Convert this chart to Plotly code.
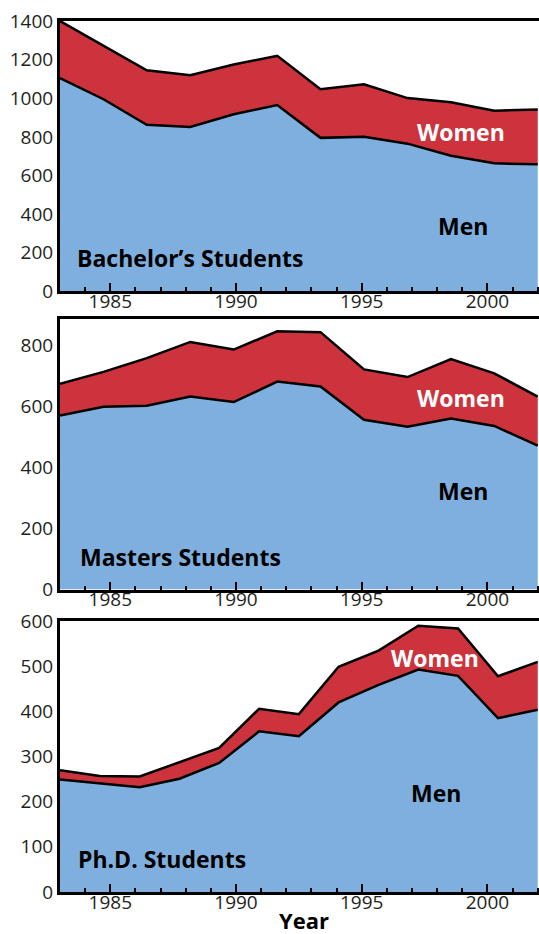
import plotly.graph_objects as go

# ---------------- data ----------------
bach_years = [1983.0, 1984.73, 1986.45, 1988.18, 1989.91, 1991.64, 1993.36, 1995.09, 1996.82, 1998.55, 2000.27, 2002.0]
bach_men = [1104, 995, 863, 851, 917, 965, 795, 801, 765, 702, 663, 658]
bach_women = [296, 275, 282, 268, 258, 255, 252, 271, 236, 277, 273, 284]

mast_years = [1983.0, 1984.73, 1986.45, 1988.18, 1989.91, 1991.64, 1993.36, 1995.09, 1996.82, 1998.55, 2000.27, 2002.0]
mast_men = [570, 599, 602, 632, 614, 681, 665, 556, 533, 560, 536, 471]
mast_women = [104, 114, 156, 179, 172, 165, 178, 165, 163, 195, 172, 161]

phd_years = [1983.0, 1984.58, 1986.17, 1987.75, 1989.33, 1990.92, 1992.5, 1994.08, 1995.67, 1997.25, 1998.83, 2000.42, 2002.0]
phd_men = [249, 240, 232, 251, 286, 356, 345, 420, 459, 493, 479, 385, 404]
phd_women = [21, 17, 24, 36, 33, 50, 49, 79, 76, 97, 105, 93, 106]

panel_titles = ["Bachelor\u2019s Students", "Masters Students", "Ph.D. Students"]
y_ranges = [[0, 1400], [0, 885], [0, 600]]
y_dticks = [200, 200, 100]
x_tick_vals = [1985, 1990, 1995, 2000]

# label positions (data coords) per panel
title_pos = [(1983.6, 175), (1983.7, 108), (1983.62, 72)]
women_pos = [(1998.95, 825), (1998.95, 628), (1997.9, 518)]
men_pos = [(1999.03, 340), (1999.03, 324), (1997.94, 220)]

# ---------------- style ----------------
BLUE = "#7fafde"
RED = "#cd333c"
INK = "#231f20"
FONT = "Open Sans"
LABEL_SIZE = 23
TICK_SIZE = 19

panels = [
    (bach_years, bach_men, bach_women),
    (mast_years, mast_men, mast_women),
    (phd_years, phd_men, phd_women),
]

domains = [[0.688, 0.9775], [0.3688, 0.6581], [0.0450, 0.3349]]

fig = go.Figure()
annotations = []
for i, (yrs, men, women) in enumerate(panels):
    xa = "x" if i == 0 else f"x{i+1}"
    ya = "y" if i == 0 else f"y{i+1}"
    sg = f"stack{i}"
    fig.add_trace(go.Scatter(
        x=yrs, y=men, xaxis=xa, yaxis=ya, stackgroup=sg, mode="lines",
        fillcolor=BLUE, line=dict(color="black", width=2.5), name="Men",
        hoverinfo="skip"))
    fig.add_trace(go.Scatter(
        x=yrs, y=women, xaxis=xa, yaxis=ya, stackgroup=sg, mode="lines",
        fillcolor=RED, line=dict(color="black", width=2.5), name="Women",
        hoverinfo="skip"))

    xkey = "xaxis" if i == 0 else f"xaxis{i+1}"
    ykey = "yaxis" if i == 0 else f"yaxis{i+1}"
    fig.layout[xkey] = dict(
        domain=[0, 1], range=[1983, 2002.05], anchor=ya,
        tickvals=x_tick_vals, ticks="inside", ticklen=8, tickwidth=2,
        tickcolor="black", ticklabelstandoff=-9,
        minor=dict(ticks="inside", dtick=1, tick0=1983, ticklen=4,
                   tickwidth=2, tickcolor="black", showgrid=False),
        showgrid=False, zeroline=False, showline=True, linecolor="black",
        linewidth=3, mirror=True,
        tickfont=dict(family=FONT, size=TICK_SIZE, color=INK),
    )
    fig.layout[ykey] = dict(
        domain=domains[i], range=y_ranges[i], anchor=xa,
        dtick=y_dticks[i], tick0=0, ticks="", showgrid=False, zeroline=False,
        showline=True, linecolor="black", linewidth=3,
        tickfont=dict(family=FONT, size=TICK_SIZE, color=INK),
    )

    annotations.append(dict(
        x=title_pos[i][0], y=title_pos[i][1], xref=xa, yref=ya,
        text=f"<b>{panel_titles[i]}</b>", showarrow=False,
        xanchor="left", yanchor="middle",
        font=dict(family=FONT, size=LABEL_SIZE, color="black")))
    annotations.append(dict(
        x=women_pos[i][0], y=women_pos[i][1], xref=xa, yref=ya,
        text="<b>Women</b>", showarrow=False,
        xanchor="center", yanchor="middle",
        font=dict(family=FONT, size=LABEL_SIZE, color="white")))
    annotations.append(dict(
        x=men_pos[i][0], y=men_pos[i][1], xref=xa, yref=ya,
        text="<b>Men</b>", showarrow=False,
        xanchor="center", yanchor="middle",
        font=dict(family=FONT, size=LABEL_SIZE, color="black")))

annotations.append(dict(
    x=1992.72, y=0.0, xref="x3", yref="paper",
    text="<b>Year</b>", showarrow=False, xanchor="center", yanchor="bottom",
    yshift=-3,
    font=dict(family=FONT, size=22, color="black")))

fig.update_layout(
    width=539, height=934,
    margin=dict(l=60, r=0, t=0, b=0, autoexpand=False),
    paper_bgcolor="white", plot_bgcolor="white",
    showlegend=False, annotations=annotations,
    hovermode=False,
)

fig.write_html(
    "out.html",
    config={"displayModeBar": False},
    post_script="document.body.style.margin='0';document.body.style.overflow='hidden';",
)
